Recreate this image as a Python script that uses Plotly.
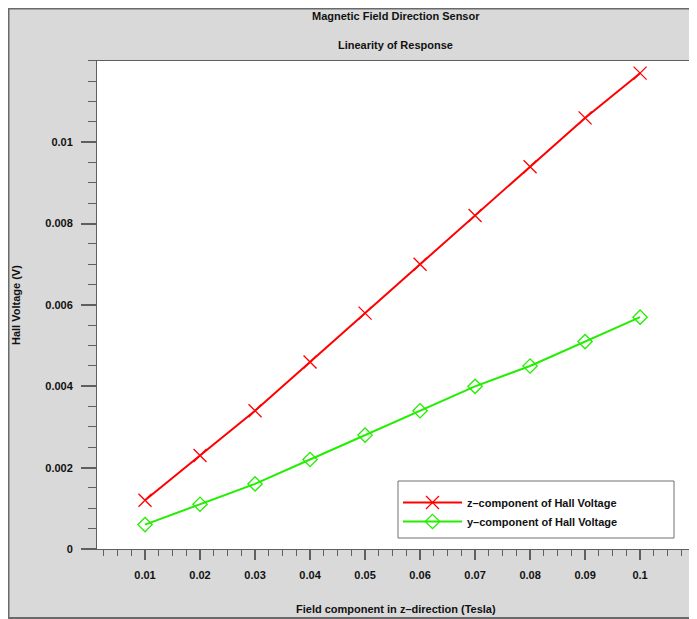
import plotly.graph_objects as go

# ---- data ----
field_tesla = [0.01, 0.02, 0.03, 0.04, 0.05, 0.06, 0.07, 0.08, 0.09, 0.1]
z_component = [0.0012, 0.0023, 0.0034, 0.0046, 0.0058, 0.0070, 0.0082, 0.0094, 0.0106, 0.0117]
y_component = [0.0006, 0.0011, 0.0016, 0.0022, 0.0028, 0.0034, 0.0040, 0.0045, 0.0051, 0.0057]

x_tickvals = [0.01, 0.02, 0.03, 0.04, 0.05, 0.06, 0.07, 0.08, 0.09, 0.1]
x_ticktext = ["0.01", "0.02", "0.03", "0.04", "0.05", "0.06", "0.07", "0.08", "0.09", "0.1"]
y_tickvals = [0, 0.002, 0.004, 0.006, 0.008, 0.01]
y_ticktext = ["0", "0.002", "0.004", "0.006", "0.008", "0.01"]

title_1 = "Magnetic Field Direction Sensor"
title_2 = "Linearity of Response"
x_title = "Field component in z\u2013direction (Tesla)"
y_title = "Hall Voltage (V)"
name_z = "z\u2013component of Hall Voltage"
name_y = "y\u2013component of Hall Voltage"

# ---- layout geometry (page pixels; the figure sits 8px in from the page corner) ----
OFF = 8
W, H = 697 - OFF, 619 - OFF
L, R, T, B = 97 - OFF, 694 - OFF, 61 - OFF, 549 - OFF


def px_x(p):
    return (p - OFF - L) / (R - L)


def px_y(p):
    return (B - (p - OFF)) / (B - T)


FONT = dict(family="Liberation Sans, Arial, sans-serif", size=11, color="#111111", weight="bold")
AXC = "#5f5f5f"
GRAY = "#d9d9d9"
FRAME = "#6a6a6a"

fig = go.Figure()
fig.add_trace(go.Scatter(
    x=field_tesla, y=z_component, name=name_z, mode="lines+markers",
    line=dict(color="#ff0000", width=2),
    marker=dict(symbol="x-thin", size=13, line=dict(color="#ff0000", width=1.3)),
))
fig.add_trace(go.Scatter(
    x=field_tesla, y=y_component, name=name_y, mode="lines+markers",
    line=dict(color="#22ee00", width=2),
    marker=dict(symbol="diamond-open", size=11, color="#22ee00", line=dict(width=1.3)),
))

fig.update_layout(
    width=W, height=H,
    margin=dict(l=L, r=W - R, t=T, b=H - B, pad=0),
    paper_bgcolor=GRAY,
    plot_bgcolor="white",
    font=FONT,
    showlegend=True,
    legend=dict(
        x=px_x(398), y=px_y(488), xanchor="left", yanchor="top",
        bgcolor="rgba(0,0,0,0)", borderwidth=0,
        font=FONT, itemwidth=59,
    ),
    xaxis=dict(
        range=[0.00127, 0.1098], showgrid=False, zeroline=False,
        showline=True, mirror=True, linecolor=AXC, linewidth=1,
        tickmode="array", tickvals=x_tickvals, ticktext=x_ticktext,
        ticks="outside", ticklen=10, tickcolor=AXC, tickwidth=1.5,
        ticklabelstandoff=6,
        minor=dict(ticks="outside", ticklen=6, tickcolor=AXC, tickwidth=1,
                   tickmode="linear", tick0=0, dtick=0.0025, showgrid=False),
        tickfont=FONT,
    ),
    yaxis=dict(
        range=[0, 0.011999], showgrid=False, zeroline=False,
        showline=True, mirror=True, linecolor=AXC, linewidth=1,
        tickmode="array", tickvals=y_tickvals, ticktext=y_ticktext,
        ticks="outside", ticklen=15, tickcolor=AXC, tickwidth=1.5,
        ticklabelstandoff=6,
        minor=dict(ticks="outside", ticklen=8, tickcolor=AXC, tickwidth=1,
                   tickmode="linear", tick0=0, dtick=0.0005, showgrid=False),
        tickfont=FONT,
    ),
    shapes=[
        # frame border: left, top, bottom edges of the gray page
        dict(type="line", xref="paper", yref="paper", layer="above",
             x0=px_x(OFF), x1=px_x(OFF), y0=px_y(619), y1=px_y(OFF - 2),
             line=dict(color=FRAME, width=3)),
        dict(type="line", xref="paper", yref="paper", layer="above",
             x0=px_x(OFF - 2), x1=px_x(700), y0=px_y(OFF), y1=px_y(OFF),
             line=dict(color=FRAME, width=3)),
        dict(type="line", xref="paper", yref="paper", layer="above",
             x0=px_x(OFF - 2), x1=px_x(700), y0=px_y(618), y1=px_y(618),
             line=dict(color=FRAME, width=2)),
        # legend box
        dict(type="rect", xref="paper", yref="paper", layer="above",
             x0=px_x(398), x1=px_x(674), y0=px_y(538), y1=px_y(481),
             fillcolor="rgba(0,0,0,0)", line=dict(color="#707070", width=1)),
    ],
    annotations=[
        dict(text=title_1, xref="paper", yref="paper", x=0.5, y=px_y(16),
             xanchor="center", yanchor="middle", showarrow=False, font=FONT),
        dict(text=title_2, xref="paper", yref="paper", x=0.5, y=px_y(45),
             xanchor="center", yanchor="middle", showarrow=False, font=FONT),
        dict(text=x_title, xref="paper", yref="paper", x=0.5, y=px_y(609),
             xanchor="center", yanchor="middle", showarrow=False, font=FONT),
        dict(text=y_title, xref="paper", yref="paper", x=px_x(16), y=0.5,
             xanchor="center", yanchor="middle", textangle=-90, showarrow=False, font=FONT),
    ],
)

fig.write_html("out.html")
